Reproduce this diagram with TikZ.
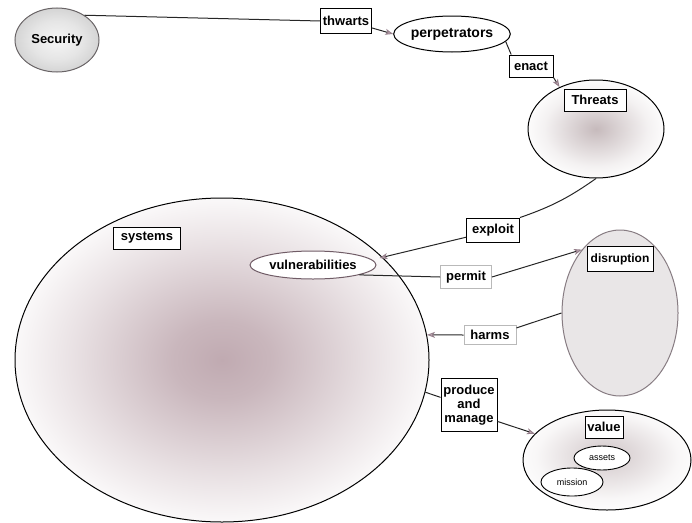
\documentclass[tikz,border=0pt]{standalone}
\usepackage{fontspec}
\setmainfont{Liberation Sans}
\usetikzlibrary{arrows.meta,shapes.geometric}

\definecolor{sysglow}{RGB}{192,170,177}
\definecolor{thrglow}{RGB}{198,186,188}
\definecolor{valglow}{RGB}{210,200,202}
\definecolor{disfill}{RGB}{233,230,231}
\definecolor{disline}{RGB}{135,124,130}
\definecolor{vulnline}{RGB}{112,92,102}
\definecolor{secline}{RGB}{105,100,102}
\definecolor{tipfill}{RGB}{205,182,192}
\definecolor{tipline}{RGB}{150,128,140}

\pgfdeclareradialshading{sysshade}{\pgfpoint{0bp}{0bp}}{color(0bp)=(sysglow); color(6bp)=(sysglow!85!white); color(18bp)=(sysglow!35!white); color(27bp)=(white); color(50bp)=(white)}
\pgfdeclareradialshading{thrshade}{\pgfpoint{0bp}{0bp}}{color(0bp)=(thrglow); color(7bp)=(thrglow!70!white); color(19bp)=(thrglow!20!white); color(27bp)=(white); color(50bp)=(white)}
\pgfdeclareradialshading{valshade}{\pgfpoint{0bp}{3bp}}{color(0bp)=(valglow); color(9bp)=(valglow!65!white); color(21bp)=(valglow!15!white); color(29bp)=(white); color(50bp)=(white)}
\pgfdeclareradialshading{ballshade}{\pgfpoint{0bp}{0bp}}{color(0bp)=(gray!8); color(15bp)=(gray!20); color(30bp)=(gray!40); color(36bp)=(gray!55); color(50bp)=(gray!55)}

\tikzset{
    label font/.style = {
        font=\bfseries\fontsize{13}{14}\selectfont,
        },
    blob/.style = {
        ellipse,
        draw,
        line width=1pt,
        inner sep=0pt,
        label font,
        },
    tag/.style = {
        rectangle,
        draw,
        fill=white,
        line width=0.9pt,
        inner sep=2pt,
        minimum height=22pt,
        label font,
        },
    faint/.style = {
        draw=gray!55,
        },
    small blob/.style = {
        ellipse,
        draw,
        fill=white,
        line width=0.9pt,
        inner sep=0pt,
        font=\fontsize{9}{10}\selectfont,
        },
    link/.style = {
        draw=black!85,
        line width=1pt,
        },
    arrow/.style = {
        link,
        -{Stealth[length=8pt, width=6pt, inset=2pt, color=tipline, fill=tipfill]},
        },
}

\begin{document}
\begin{tikzpicture}[x=1pt, y=-1pt]
            \useasboundingbox (0,0) rectangle (692,522);

            % containers
            \node[blob, shading=sysshade, minimum width=414pt, minimum height=324pt] (sys) at (222,360) {};
            \node[blob, shading=thrshade, minimum width=136pt, minimum height=98pt] (thr) at (596,129) {};
            \node[blob, fill=disfill, draw=disline, minimum width=116pt, minimum height=166pt] (dis) at (620,313) {};
            \node[blob, shading=valshade, minimum width=168pt, minimum height=100pt] (val) at (607,460) {};

            % concepts
            \node[blob, shading=ballshade, draw=secline, minimum width=84pt, minimum height=64pt] (sec) at (57,40) {Security};
            \node[blob, fill=white, minimum width=110pt, minimum height=36pt, font=\bfseries\fontsize{14}{15}\selectfont] (perp) at (452,34) {perpetrators};
            \node[blob, fill=white, draw=vulnline, minimum width=126pt, minimum height=28pt] (vuln) at (313,265) {vulnerabilities};
            \node[tag, minimum width=62pt] (thrlab) at (595,100) {Threats};
            \node[tag, minimum width=67pt] (syslab) at (147,238) {systems};
            \node[tag, minimum width=66pt, minimum height=25pt, font=\bfseries\fontsize{12}{14}\selectfont] (dislab) at (620,259) {disruption};
            \node[tag, minimum width=38pt] (vallab) at (604,427) {value};
            \node[small blob, minimum width=56pt, minimum height=24pt] (assets) at (602,458) {assets};
            \node[small blob, minimum width=62pt, minimum height=28pt] (mission) at (572,482) {mission};

            % relations
            \node[tag, minimum width=48pt, minimum height=25pt] (thw) at (346,21) {thwarts};
            \node[tag, minimum width=44pt] (enact) at (531,66) {enact};
            \node[tag, minimum width=53pt, minimum height=24pt] (expl) at (493,230) {exploit};
            \node[tag, faint, minimum width=51pt, minimum height=23pt] (permit) at (466,277) {permit};
            \node[tag, faint, minimum width=52pt, minimum height=19pt] (harms) at (490,335) {harms};
            \node[tag, align=center, minimum width=56pt, minimum height=53pt] (prod) at (469,405) {produce\\and\\manage};

            \path (sec.42) edge[link] (thw.west);
            \path (thw.-15) edge[arrow] (perp.west);
            \path (perp.-8) edge[link] (enact.150);
            \path (enact.south east) edge[arrow] (thr.131);
            \path (thr.south) edge[link, bend left=8] (expl.north east);
            \path (expl.195) edge[arrow] ([xshift=3pt, yshift=7pt]vuln.east);
            \path (vuln.-12) edge[link] (permit.west);
            \path (permit.east) edge[arrow] (dis.121);
            \path (dis.west) edge[link] (harms.15);
            \path (harms.west) edge[arrow] (sys.7);
            \path (sys.-9) edge[link] (prod.165);
            \path (prod.-30) edge[arrow] (val.160);
        \end{tikzpicture}
\end{document}
